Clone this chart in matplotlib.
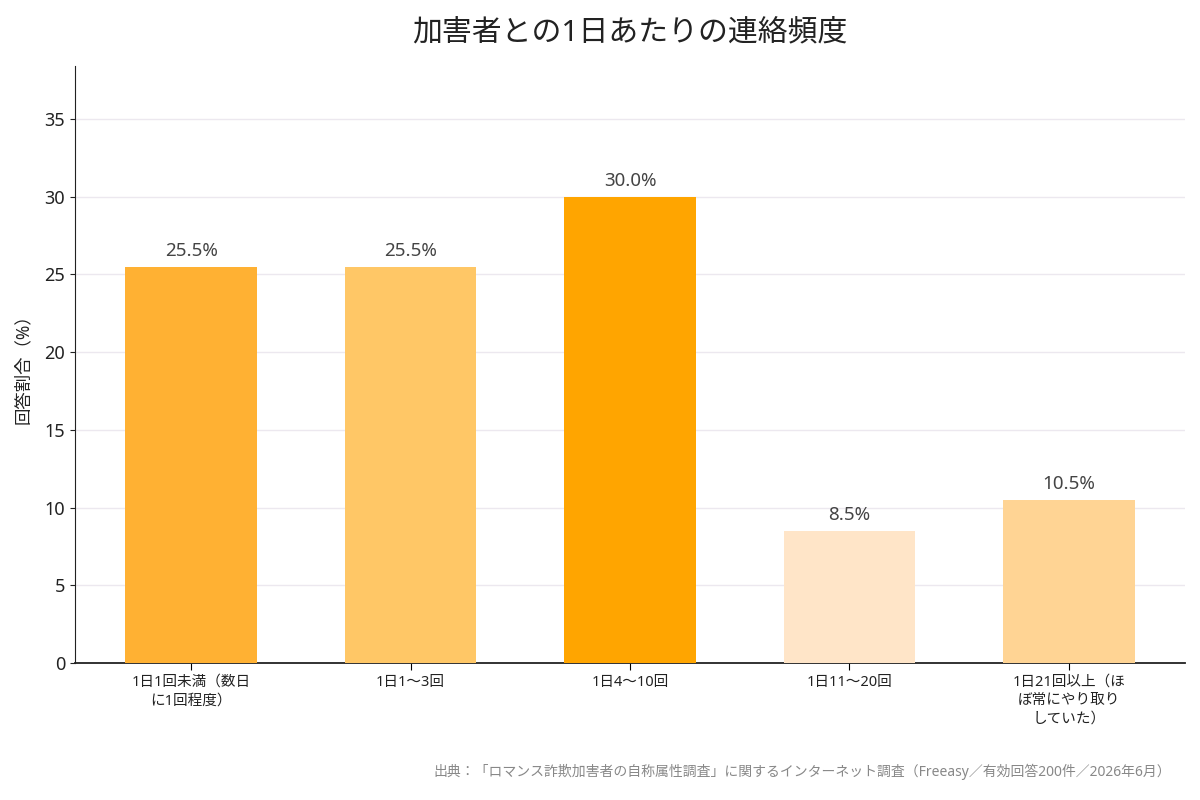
import matplotlib
matplotlib.use("Agg")
import matplotlib.pyplot as plt

plt.rcParams['font.family'] = ['Noto Sans', 'Noto Sans CJK JP', 'DejaVu Sans']

categories = ["1日1回未満（数日\nに1回程度）", "1日1～3回", "1日4～10回", "1日11～20回",
              "1日21回以上（ほ\nぼ常にやり取り\nしていた）"]
values = [25.5, 25.5, 30.0, 8.5, 10.5]
colors = ["#FFB133", "#FFC766", "#FFA500", "#FFE5C8", "#FFD494"]
yticks = [0, 5, 10, 15, 20, 25, 30, 35]

fig = plt.figure(figsize=(12, 8), dpi=100)
ax = fig.add_axes([0.0625, 0.171, 0.925, 0.7465])

x = list(range(len(categories)))
bars = ax.bar(x, values, width=0.6, color=colors, zorder=3)
for b, v in zip(bars, values):
    ax.text(b.get_x() + b.get_width() / 2, v + 0.45, f"{v:.1f}%", ha="center", va="bottom",
            fontsize=13.5, color="#444444", zorder=4)

ax.set_ylim(0, max(values) * 1.28)
ax.set_yticks(yticks)
ax.set_xticks(x)
ax.set_xticklabels(categories, fontsize=10.5, color="#222222", linespacing=1.3)
ax.tick_params(axis="y", labelsize=13, colors="#222222")
ax.tick_params(axis="x", length=5)
ax.yaxis.grid(True, color="#ECE8EF", linewidth=1, zorder=0)
ax.set_axisbelow(True)
for s in ["top", "right"]:
    ax.spines[s].set_visible(False)
ax.spines["left"].set_color("#222222")
ax.spines["bottom"].set_color("#222222")
ax.spines["bottom"].set_linewidth(1.3)
ax.set_ylabel("回答割合（%）", fontsize=12.5, color="#222222", labelpad=9)

ax.set_title("加害者との1日あたりの連絡頻度", fontsize=21.5, color="#222222", pad=18)
fig.text(0.976, 0.035, "出典：「ロマンス詐欺加害者の自称属性調査」に関するインターネット調査（Freeasy／有効回答200件／2026年6月）",
         ha="right", va="center", fontsize=10, color="#888888")

fig.savefig("out.png", dpi=100)
